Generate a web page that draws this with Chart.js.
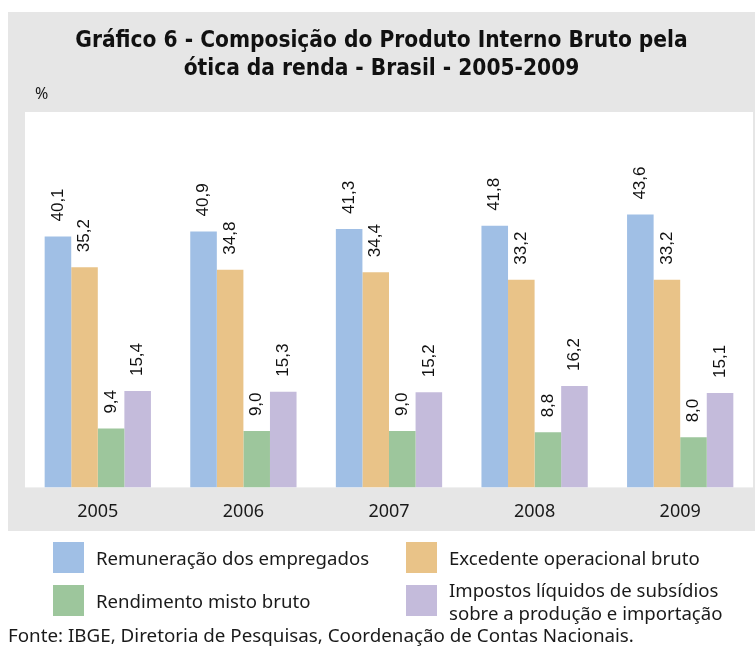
<!DOCTYPE html>
<html lang="pt-BR">
<head>
<meta charset="utf-8">
<script src="https://cdn.jsdelivr.net/npm/chart.js@4.4.1/dist/chart.umd.min.js"></script>
<style>
  body { margin: 0; width: 755px; height: 646px; position: relative; overflow: hidden; background: #fff;
         font-family: "Noto Sans", sans-serif; color: #1a1a1a; }
  #grafico { position: absolute; left: 0; top: 0; }
  #titulo { position: absolute; left: 8px; width: 747px; top: 25px; text-align: center;
            font: bold 22.5px/28.3px "Liberation Sans Narrow", "DejaVu Sans Condensed", sans-serif; color: #111; }
  #unidade { position: absolute; left: 35px; top: 82px; font-size: 16px; }
  #legenda { position: absolute; left: 53px; top: 542px; display: grid;
             grid-template-columns: 353px 320px; grid-auto-rows: 31px; row-gap: 12px; }
  .item { display: flex; align-items: center; height: 31px; font-size: 18.6px; line-height: 23px; white-space: pre-line; }
  .quadro { width: 31px; height: 31px; margin-right: 12px; flex: none; }
  #fonte { position: absolute; left: 8px; top: 624px; font-size: 18.8px; line-height: 22px; }
</style>
</head>
<body>
<canvas id="grafico" width="755" height="646"></canvas>
<div id="titulo">Gráfico 6 - Composição do Produto Interno Bruto pela<br>ótica da renda - Brasil - 2005-2009</div>
<div id="unidade">%</div>
<div id="legenda"></div>
<div id="fonte">Fonte: IBGE, Diretoria de Pesquisas, Coordenação de Contas Nacionais.</div>
<script>
// dados (%)
const anos = ['2005', '2006', '2007', '2008', '2009']
const remuneracao = [40.1, 40.9, 41.3, 41.8, 43.6]
const excedente = [35.2, 34.8, 34.4, 33.2, 33.2]
const rendimento = [9.4, 9.0, 9.0, 8.8, 8.0]
const impostos = [15.4, 15.3, 15.2, 16.2, 15.1]

const nomes = [
    'Remuneração dos empregados',
    'Excedente operacional bruto',
    'Rendimento misto bruto',
    'Impostos líquidos de subsídios\nsobre a produção e importação'
]
const cores = ['#a0bfe5', '#e9c388', '#9dc69c', '#c4bbdb']
const series = [remuneracao, excedente, rendimento, impostos]

// fundo cinza e área branca do gráfico
const fundo = {
    id: 'fundo',
    beforeDraw(chart) {
        const c = chart.ctx, a = chart.chartArea
        c.save()
        c.fillStyle = '#e6e6e6'
        c.fillRect(8, 12, 747, 519)
        c.fillStyle = '#ffffff'
        c.fillRect(a.left, a.top, a.right - a.left, a.bottom - a.top)
        c.restore()
    }
}

// valores na vertical acima das barras
const rotulos = {
    id: 'rotulos',
    afterDatasetsDraw(chart) {
        const c = chart.ctx
        c.save()
        c.font = '17px "Liberation Sans", Arial, sans-serif'
        c.fillStyle = '#111'
        c.textAlign = 'left'
        c.textBaseline = 'middle'
        chart.data.datasets.forEach((ds, i) => {
            chart.getDatasetMeta(i).data.forEach((barra, j) => {
                c.save()
                c.translate(barra.x, barra.y - 15)
                c.rotate(-Math.PI / 2)
                c.fillText(ds.data[j].toFixed(1).replace('.', ','), 0, 0)
                c.restore()
            })
        })
        c.restore()
    }
}

var ctx = document.getElementById('grafico').getContext('2d');
var chart = new Chart(ctx, {
    type: 'bar',
    data: {
        labels: anos,
        datasets: series.map((s, i) => ({
            label: nomes[i],
            data: s,
            backgroundColor: cores[i],
            borderWidth: 0,
            categoryPercentage: 0.73,
            barPercentage: 1.0
        }))
    },
    options: {
        responsive: false,
        animation: false,
        layout: { padding: { left: 25, right: 2, top: 112, bottom: 109 } },
        plugins: { legend: { display: false }, tooltip: { enabled: false }, title: { display: false } },
        scales: {
            x: {
                grid: { display: false, drawTicks: false },
                border: { display: false },
                ticks: { padding: 14, color: '#1a1a1a', font: { family: 'Noto Sans', size: 18 } }
            },
            y: { display: false, min: 0, max: 60 }
        }
    },
    plugins: [fundo, rotulos]
});

// legenda
const legenda = document.getElementById('legenda')
nomes.forEach((n, i) => {
    const item = document.createElement('div')
    item.className = 'item'
    item.innerHTML = '<span class="quadro" style="background:' + cores[i] + '"></span><span></span>'
    item.lastChild.textContent = n
    legenda.appendChild(item)
})
</script>
</body>
</html>
